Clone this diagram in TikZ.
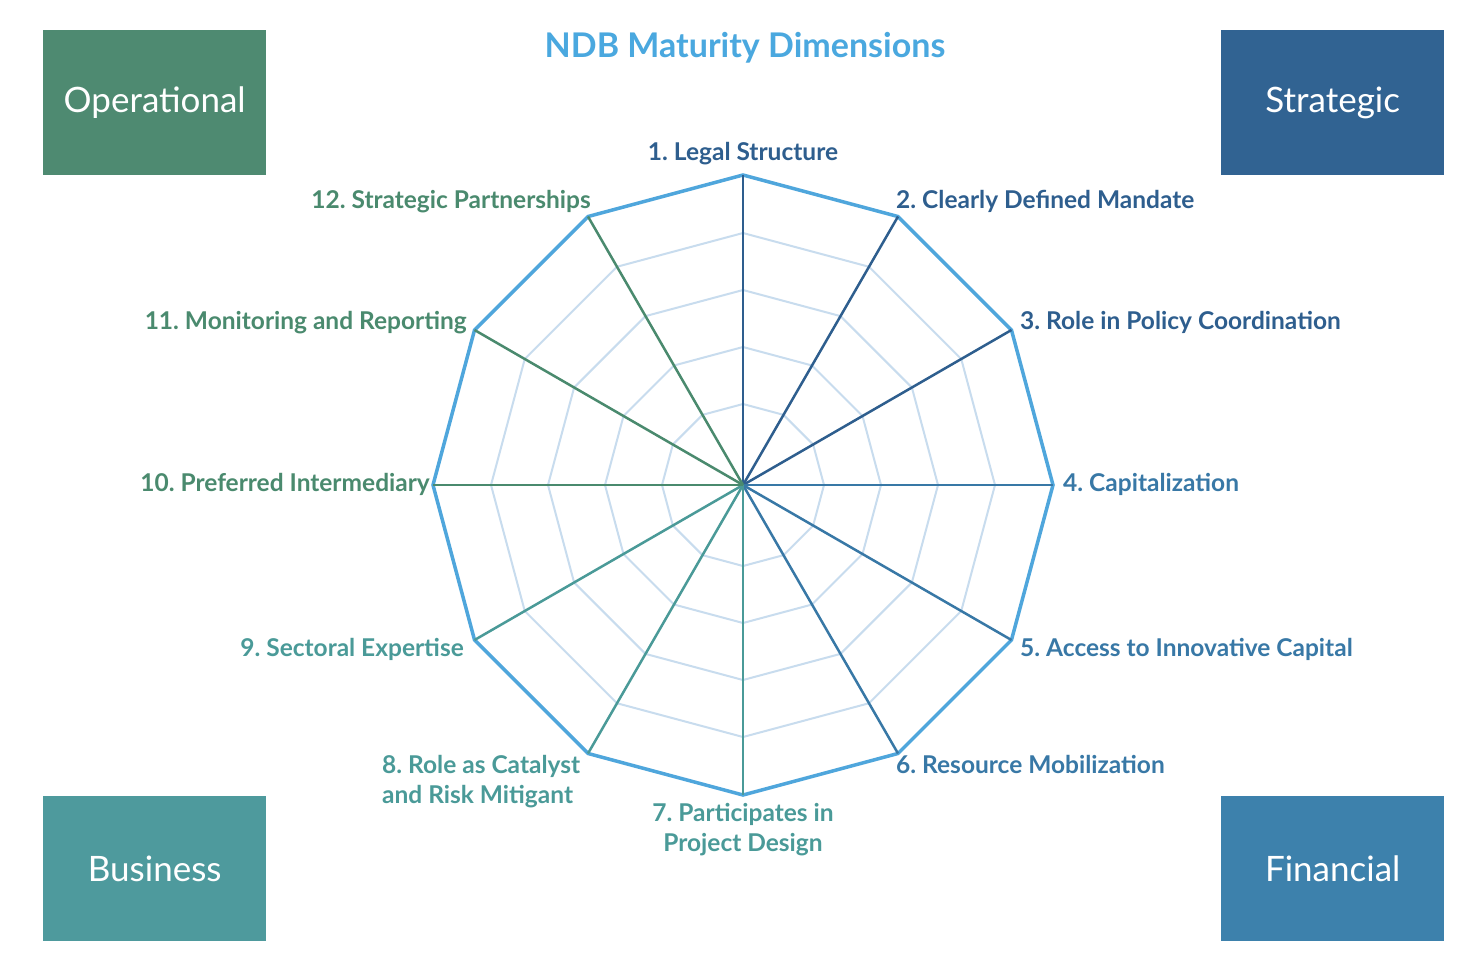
\documentclass[tikz,border=0pt]{standalone}
\usepackage{fontspec}
\setmainfont{Lato}
\frenchspacing
\definecolor{dimblue}{HTML}{2E5E8E}
\definecolor{midblue}{HTML}{3878A6}
\definecolor{tealc}{HTML}{4A9A98}
\definecolor{greenc}{HTML}{4A8A6E}
\definecolor{outerc}{HTML}{4FA6DC}
\definecolor{ringc}{HTML}{C8DCEE}
\definecolor{titlec}{HTML}{4AA8DF}
\definecolor{opbox}{HTML}{4E8A71}
\definecolor{stbox}{HTML}{316392}
\definecolor{bubox}{HTML}{4E9A9D}
\definecolor{fibox}{HTML}{3D81AC}
\tikzset{
  catbox/.style={draw=none, minimum width=223pt, minimum height=145pt, inner sep=0pt, text=white, font=\fontsize{35}{40}\selectfont},
  dimlabel/.style={inner sep=0pt, font=\bfseries\fontsize{24.5}{30}\selectfont},
  ringline/.style={draw=ringc, line width=2pt, line join=round},
  outerline/.style={draw=outerc, line width=3.5pt, line join=miter},
  spoke/.style={line width=2.5pt}
}
\begin{document}
\begin{tikzpicture}[x=1pt,y=-1pt]
\useasboundingbox (0,0) rectangle (1465,962);
\fill[white] (0,0) rectangle (1465,962);
% title
\node[font=\bfseries\fontsize{34}{40}\selectfont, text=titlec, inner sep=0pt, anchor=mid] (title) at (745,55) {NDB Maturity Dimensions};
% category boxes
\node[catbox, fill=opbox, anchor=north west] (op) at (43,30) {Operational};
\node[catbox, fill=stbox, anchor=north west] (st) at (1221,30) {Strategic};
\node[catbox, fill=bubox, anchor=north west] (bu) at (43,796) {Business};
\node[catbox, fill=fibox, anchor=north west] (fi) at (1221,796) {Financial};
% radar
\begin{scope}[shift={(743,485)}]
  \coordinate (c) at (0,0);
  \foreach \k in {1,...,12}{
    \coordinate (v\k) at ({-90+30*(\k-1)}:310);
  }
  \foreach \r in {81,138,195,252}{
    \draw[ringline] (-90:\r) \foreach \a in {-60,-30,...,240}{ -- (\a:\r) } -- cycle;
  }
  \draw[outerline] (v1) -- (v2) -- (v3) -- (v4) -- (v5) -- (v6) -- (v7) -- (v8) -- (v9) -- (v10) -- (v11) -- (v12) -- cycle;
  \foreach \k/\col in {1/dimblue,2/dimblue,3/dimblue,4/midblue,5/midblue,6/midblue,7/tealc,8/tealc,9/tealc,10/greenc,11/greenc,12/greenc}{
    \draw[spoke, draw=\col] (c) -- (v\k);
  }
\end{scope}
% labels
\node[dimlabel, text=dimblue, anchor=mid] (l1) at (743,158) {1. Legal Structure};
\node[dimlabel, text=dimblue, anchor=mid west] (l2) at (896,206) {2. Clearly Defined Mandate};
\node[dimlabel, text=dimblue, anchor=mid west] (l3) at (1020,327) {3. Role in Policy Coordination};
\node[dimlabel, text=midblue, anchor=mid west] (l4) at (1063,489) {4. Capitalization};
\node[dimlabel, text=midblue, anchor=mid west] (l5) at (1020,654) {5. Access to Innovative Capital};
\node[dimlabel, text=midblue, anchor=mid west] (l6) at (896,771) {6. Resource Mobilization};
\node[dimlabel, text=tealc, anchor=north, align=center] (l7) at (743,803) {7. Participates in\\Project Design};
\node[dimlabel, text=tealc, anchor=north west, align=left] (l8) at (382,755) {8. Role as Catalyst\\and Risk Mitigant};
\node[dimlabel, text=tealc, anchor=mid east] (l9) at (464,654) {9. Sectoral Expertise};
\node[dimlabel, text=greenc, anchor=mid east] (l10) at (430,489) {10. Preferred Intermediary};
\node[dimlabel, text=greenc, anchor=mid east] (l11) at (467,327) {11. Monitoring and Reporting};
\node[dimlabel, text=greenc, anchor=mid east] (l12) at (591,206) {12. Strategic Partnerships};
\end{tikzpicture}
\end{document}
